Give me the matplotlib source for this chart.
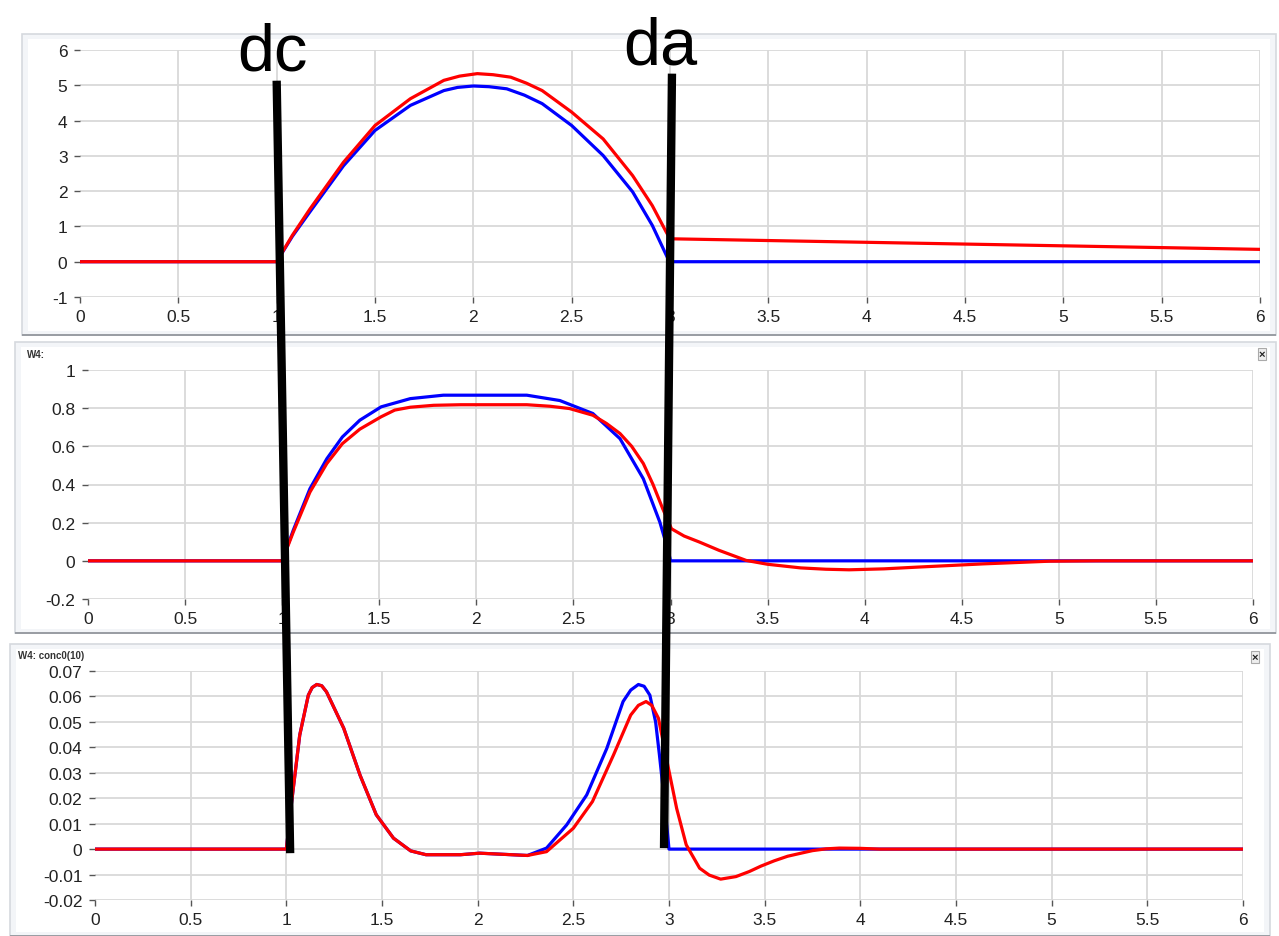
import matplotlib.pyplot as plt
from matplotlib.patches import Rectangle, ConnectionPatch

plt.rcParams['font.family'] = ['Liberation Sans', 'DejaVu Sans']

W, H = 1279, 937

# top panel
x1_blue = [0, 1.0, 1.08, 1.17, 1.34, 1.5, 1.68, 1.85, 1.92, 2.0, 2.08, 2.17, 2.26, 2.35, 2.5, 2.66,
           2.81, 2.91, 2.99, 3.0, 6.0]
y1_blue = [0, 0, 0.72, 1.42, 2.72, 3.72, 4.43, 4.85, 4.94, 4.98, 4.96, 4.90, 4.72, 4.48, 3.86, 3.01,
           1.98, 1.03, 0.08, 0, 0]
x1_red = [0, 1.0, 1.08, 1.17, 1.34, 1.5, 1.68, 1.85, 1.93, 2.02, 2.1, 2.19, 2.27, 2.35, 2.5, 2.66,
          2.81, 2.91, 2.98, 3.0, 3.5, 4.0, 4.5, 5.0, 5.5, 6.0]
y1_red = [0, 0, 0.75, 1.5, 2.82, 3.86, 4.62, 5.14, 5.26, 5.33, 5.3, 5.23, 5.06, 4.85, 4.24, 3.48,
          2.44, 1.59, 0.85, 0.65, 0.6, 0.55, 0.5, 0.45, 0.4, 0.35]

# middle panel
x2_blue = [0, 1.0, 1.057, 1.143, 1.23, 1.31, 1.40, 1.51, 1.66, 1.83, 2.0, 2.26, 2.43, 2.60, 2.74,
           2.86, 2.945, 2.99, 3.0, 6.0]
y2_blue = [0, 0, 0.16, 0.378, 0.535, 0.649, 0.737, 0.807, 0.850, 0.868, 0.868, 0.868, 0.84, 0.772,
           0.64, 0.43, 0.203, 0.047, 0, 0]
x2_red = [0, 1.0, 1.057, 1.143, 1.23, 1.31, 1.40, 1.51, 1.58, 1.66, 1.78, 1.92, 2.26, 2.38, 2.48,
          2.60, 2.67, 2.74, 2.80, 2.86, 2.91, 2.96, 3.005, 3.07, 3.15, 3.25, 3.39, 3.5, 3.67, 3.8,
          3.92, 4.1, 4.27, 4.61, 4.95, 5.2, 6.0]
y2_red = [0, 0, 0.15, 0.36, 0.51, 0.614, 0.69, 0.755, 0.79, 0.805, 0.815, 0.818, 0.818, 0.81,
          0.798, 0.763, 0.72, 0.667, 0.6, 0.51, 0.40, 0.273, 0.168, 0.13, 0.098, 0.055, 0.002,
          -0.018, -0.037, -0.044, -0.047, -0.042, -0.033, -0.016, -0.002, 0, 0]

# bottom panel
x3_blue = [0, 1.0, 1.028, 1.07, 1.115, 1.135, 1.159, 1.185, 1.21, 1.30, 1.385, 1.47, 1.56, 1.65,
           1.73, 1.91, 2.01, 2.26, 2.36, 2.465, 2.57, 2.675, 2.76, 2.80, 2.84, 2.87, 2.90, 2.93,
           2.95, 2.98, 3.0, 6.0]
y3_blue = [0, 0, 0.0187, 0.0448, 0.0605, 0.0635, 0.0647, 0.0642, 0.0618, 0.0475, 0.0291, 0.0135,
           0.0043, -0.0007, -0.0022, -0.0022, -0.0016, -0.0025, 0.0004, 0.0095, 0.0213, 0.0396,
           0.058, 0.0625, 0.0647, 0.064, 0.0605, 0.05, 0.037, 0.016, 0, 0]
x3_red = [0, 1.0, 1.028, 1.07, 1.115, 1.135, 1.159, 1.185, 1.21, 1.30, 1.385, 1.47, 1.56, 1.65,
          1.73, 1.91, 2.01, 2.26, 2.36, 2.50, 2.60, 2.71, 2.80, 2.84, 2.88, 2.91, 2.945, 2.997,
          3.04, 3.09, 3.16, 3.21, 3.27, 3.35, 3.42, 3.48, 3.55, 3.62, 3.69, 3.75, 3.82, 3.89, 4.0,
          4.1, 6.0]
y3_red = [0, 0, 0.0187, 0.0448, 0.0605, 0.0635, 0.0647, 0.0642, 0.0618, 0.0475, 0.0291, 0.0135,
          0.0043, -0.0007, -0.0022, -0.0022, -0.0016, -0.0025, -0.001, 0.0082, 0.0187, 0.037,
          0.0527, 0.0565, 0.058, 0.0565, 0.0514, 0.0318, 0.016, 0.0017, -0.0075, -0.0102, -0.0118,
          -0.0108, -0.0088, -0.0067, -0.0046, -0.0028, -0.0016, -0.0006, 0.0001, 0.0004, 0.0003, 0,
          0]

x_ticks = [0, 0.5, 1, 1.5, 2, 2.5, 3, 3.5, 4, 4.5, 5, 5.5, 6]
x_labels = ['0', '0.5', '1', '1.5', '2', '2.5', '3', '3.5', '4', '4.5', '5', '5.5', '6']
y1_ticks = [-1, 0, 1, 2, 3, 4, 5, 6]
y1_labels = ['-1', '0', '1', '2', '3', '4', '5', '6']
y2_ticks = [-0.2, 0, 0.2, 0.4, 0.6, 0.8, 1]
y2_labels = ['-0.2', '0', '0.2', '0.4', '0.6', '0.8', '1']
y3_ticks = [-0.02, -0.01, 0, 0.01, 0.02, 0.03, 0.04, 0.05, 0.06, 0.07]
y3_labels = ['-0.02', '-0.01', '0', '0.01', '0.02', '0.03', '0.04', '0.05', '0.06', '0.07']

# annotation lines (axes 1 data point -> axes 3 data point)
dc_top, dc_bottom = (1.0, 5.13), (1.02, -0.0016)
da_top, da_bottom = (3.01, 5.33), (2.974, 0.0004)


def px_box(left, top, right, bottom):
    return [left / W, 1 - bottom / H, (right - left) / W, (bottom - top) / H]


fig = plt.figure(figsize=(W / 100, H / 100), dpi=100)

# window frames
for (l, t, r, b) in [(22, 35, 1276, 336), (15, 343, 1276, 634), (10, 645, 1270, 937)]:
    fig.add_artist(Rectangle((l / W, 1 - b / H), (r - l) / W, (b - t) / H,
                             transform=fig.transFigure, facecolor='#f3f5f8',
                             edgecolor='#d6d9de', linewidth=1.2, zorder=-5))
    fig.add_artist(Rectangle(((l + 6) / W, 1 - (b - 4) / H), (r - l - 12) / W, (b - t - 9) / H,
                             transform=fig.transFigure, facecolor='white',
                             edgecolor='none', zorder=-4))
    fig.add_artist(Rectangle((l / W, 1 - (b + 1) / H), (r - l) / W, 2 / H,
                             transform=fig.transFigure, facecolor='#9a9ea4',
                             edgecolor='none', zorder=-3))

ax1 = fig.add_axes(px_box(80, 51, 1260, 298))
ax2 = fig.add_axes(px_box(88, 371, 1253, 600))
ax3 = fig.add_axes(px_box(95, 672, 1243, 901))

panels = [
    (ax1, x1_blue, y1_blue, x1_red, y1_red, y1_ticks, y1_labels),
    (ax2, x2_blue, y2_blue, x2_red, y2_red, y2_ticks, y2_labels),
    (ax3, x3_blue, y3_blue, x3_red, y3_red, y3_ticks, y3_labels),
]
for ax, xb, yb, xr, yr, yt, yl in panels:
    ax.set_facecolor('none')
    ax.plot(xb, yb, color='#0000ff', linewidth=2.3, zorder=3, solid_joinstyle='round')
    ax.plot(xr, yr, color='#ff0000', linewidth=2.3, zorder=4, solid_joinstyle='round')
    ax.set_xlim(0, 6)
    ax.set_ylim(yt[0], yt[-1])
    ax.set_xticks(x_ticks, x_labels)
    ax.set_yticks(yt, yl)
    for s in ax.spines.values():
        s.set_visible(False)
    ax.tick_params(direction='out', length=4, width=1, color='#555555',
                   labelsize=12.5, labelcolor='#222222', pad=5)
    ax.grid(True, color='#d9d9d9', linewidth=1.3, zorder=0)
    ax.xaxis.get_gridlines()[0].set_visible(False)

fig.text(27 / W, 1 - 355 / H, 'W4:', fontsize=7, fontweight='bold', color='#333333', va='center')
fig.text(18 / W, 1 - 656 / H, 'W4: conc0(10)', fontsize=7, fontweight='bold', color='#333333',
         va='center')
for (bx, by) in [(1262, 355), (1255, 658)]:
    fig.text(bx / W, 1 - by / H, '×', fontsize=8, fontweight='bold', color='#222222',
             ha='center', va='center',
             bbox=dict(boxstyle='square,pad=0.1', facecolor='#eeeeee', edgecolor='#aaaaaa',
                       linewidth=0.8))

for top, bottom in [(dc_top, dc_bottom), (da_top, da_bottom)]:
    con = ConnectionPatch(xyA=top, coordsA=ax1.transData, xyB=bottom, coordsB=ax3.transData,
                          color='black', linewidth=6, capstyle='butt', zorder=10)
    fig.add_artist(con)

ax1.text(dc_top[0] - 0.02, 5.45, 'dc', fontsize=48, color='black', ha='center', va='baseline',
         clip_on=False, zorder=11)
ax1.text(da_top[0] - 0.06, 5.62, 'da', fontsize=48, color='black', ha='center', va='baseline',
         clip_on=False, zorder=11)

fig.savefig('out.png', dpi=100, facecolor='white')
